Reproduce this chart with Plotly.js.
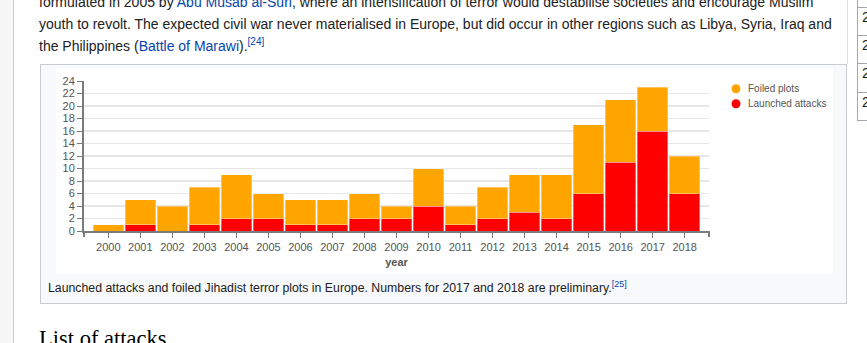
<!DOCTYPE html>
<html>
<head>
<meta charset="utf-8">
<script src="https://cdn.plot.ly/plotly-3.0.1.min.js"></script>
<style>
  html, body { margin:0; padding:0; }
  body { width:867px; height:343px; overflow:hidden; position:relative; background:#fff;
         font-family:"Liberation Sans", Arial, sans-serif; color:#202122; }
  #side { position:absolute; left:0; top:0; width:13px; height:343px; background:#f6f6f6; border-right:1px solid #a7d7f9; }
  #para { position:absolute; left:39px; top:-9px; width:800px; font-size:14px; line-height:22px; white-space:nowrap; }
  a { color:#0645ad; text-decoration:none; }
  sup { font-size:10px; line-height:0; vertical-align:6px; }
  #vline { position:absolute; left:847px; top:0; width:1px; height:64px; background:#dcdfe3; }
  #fig { position:absolute; left:40px; top:64px; width:805px; height:238px; background:#f8f9fa; border:1px solid #c8ccd1; }
  #chart { position:absolute; left:56px; top:68px; width:777px; height:206px; background:#fff; }
  #cap { position:absolute; left:48px; top:280px; font-size:12.3px; line-height:16px; white-space:nowrap; }
  #cap sup { font-size:9px; vertical-align:5px; }
  #h2 { position:absolute; left:39px; top:325px; font-family:"Liberation Serif", "DejaVu Serif", serif; font-size:22.5px; line-height:28px; color:#000; white-space:nowrap; }
  #tbl { position:absolute; left:857px; top:-10px; width:20px; height:130px; border-left:1px solid #a2a9b1; border-bottom:1px solid #a2a9b1; }
  .row { position:absolute; left:0; width:20px; border-top:1px solid #a2a9b1; font-size:14px; }
  .row span { position:absolute; left:4px; }
</style>
</head>
<body>
<div id="side"></div>
<div id="para">formulated in 2005 by <a>Abu Musab al-Suri</a>, where an intensification of terror would destabilise societies and encourage Muslim<br>youth to revolt. The expected civil war never materialised in Europe, but did occur in other regions such as Libya, Syria, Iraq and<br>the Philippines (<a>Battle of Marawi</a>).<sup><a>[24]</a></sup></div>
<div id="vline"></div>
<div id="tbl">
  <div class="row" style="top:17px;"><span style="top:1px;">2</span></div>
  <div class="row" style="top:45px;"><span style="top:1px;">2</span></div>
  <div class="row" style="top:73px;"><span style="top:1px;">2</span></div>
  <div class="row" style="top:102px;"><span style="top:1px;">2</span></div>
</div>
<div id="fig"></div>
<div id="chart"></div>
<div id="cap">Launched attacks and foiled Jihadist terror plots in Europe. Numbers for 2017 and 2018 are preliminary.<sup><a>[25]</a></sup></div>
<div id="h2">List of attacks</div>
<script>
const years = ["2000","2001","2002","2003","2004","2005","2006","2007","2008","2009","2010","2011","2012","2013","2014","2015","2016","2017","2018"];
const launchedAttacks = [0,1,0,1,2,2,1,1,2,2,4,1,2,3,2,6,11,16,6];
const foiledPlots     = [1,4,4,6,7,4,4,4,4,2,6,3,5,6,7,11,10,7,6];
const seriesNames = ["Foiled plots","Launched attacks"];
const seriesColors = ["rgb(255,165,0)","rgb(255,0,0)"];
const yTicks = [0,2,4,6,8,10,12,14,16,18,20,22,24];

const axisGrey = "#7a7a7a";
const labelGrey = "#555";

const traces = [
  { type:"bar", name:seriesNames[1], x:years, y:launchedAttacks,
    marker:{ color:seriesColors[1], line:{ color:"rgba(255,255,255,0.35)", width:1 } }, hoverinfo:"skip", showlegend:false },
  { type:"bar", name:seriesNames[0], x:years, y:foiledPlots,
    marker:{ color:seriesColors[0], line:{ color:"rgba(255,255,255,0.35)", width:1 } }, hoverinfo:"skip", showlegend:false }
];

const shapes = [
  { type:"line", xref:"paper", yref:"paper", x0:0, x1:0, ysizemode:"pixel", yanchor:0, y0:-6, y1:0, line:{ color:axisGrey, width:2 } },
  { type:"line", xref:"paper", yref:"paper", x0:1, x1:1, ysizemode:"pixel", yanchor:0, y0:-6, y1:0, line:{ color:axisGrey, width:2 } }
];
const annotations = [];
const legendY = [0.9487, 0.8487];
seriesNames.forEach((n, i) => {
  shapes.push({ type:"circle", xref:"paper", yref:"paper", xsizemode:"pixel", ysizemode:"pixel",
    xanchor:1.0432, yanchor:legendY[i], x0:-4.5, x1:4.5, y0:-4.5, y1:4.5,
    fillcolor:seriesColors[i], line:{ width:0 } });
  annotations.push({ xref:"paper", yref:"paper", x:1.0587, y:legendY[i], xanchor:"left", yanchor:"middle",
    text:n, showarrow:false, font:{ family:"Liberation Sans, Arial, sans-serif", size:10, color:labelGrey } });
});

const layout = {
  width:777, height:206,
  margin:{ l:28, r:124, t:13, b:43, pad:0 },
  paper_bgcolor:"#fff", plot_bgcolor:"#fff",
  barmode:"stack", bargap:0.05,
  showlegend:false,
  font:{ family:"Liberation Sans, Arial, sans-serif", size:11, color:labelGrey },
  xaxis:{ type:"category", range:[-0.76, 18.76], showgrid:false, zeroline:false,
    showline:true, linecolor:axisGrey, linewidth:2,
    ticks:"outside", ticklen:5, tickcolor:axisGrey, tickwidth:1,
    tickfont:{ size:11, color:labelGrey },
    title:{ text:"year", font:{ size:11, color:labelGrey, weight:"bold" }, standoff:6 } },
  yaxis:{ range:[0,24], tickvals:yTicks, showgrid:true, gridcolor:"#e6e6e6", gridwidth:1.5,
    zeroline:false, showline:true, linecolor:axisGrey, linewidth:2,
    ticks:"outside", ticklen:5, tickcolor:axisGrey, tickwidth:1,
    tickfont:{ size:11, color:labelGrey } },
  shapes:shapes, annotations:annotations
};
Plotly.newPlot("chart", traces, layout, { staticPlot:true, displayModeBar:false });
</script>
</body>
</html>
